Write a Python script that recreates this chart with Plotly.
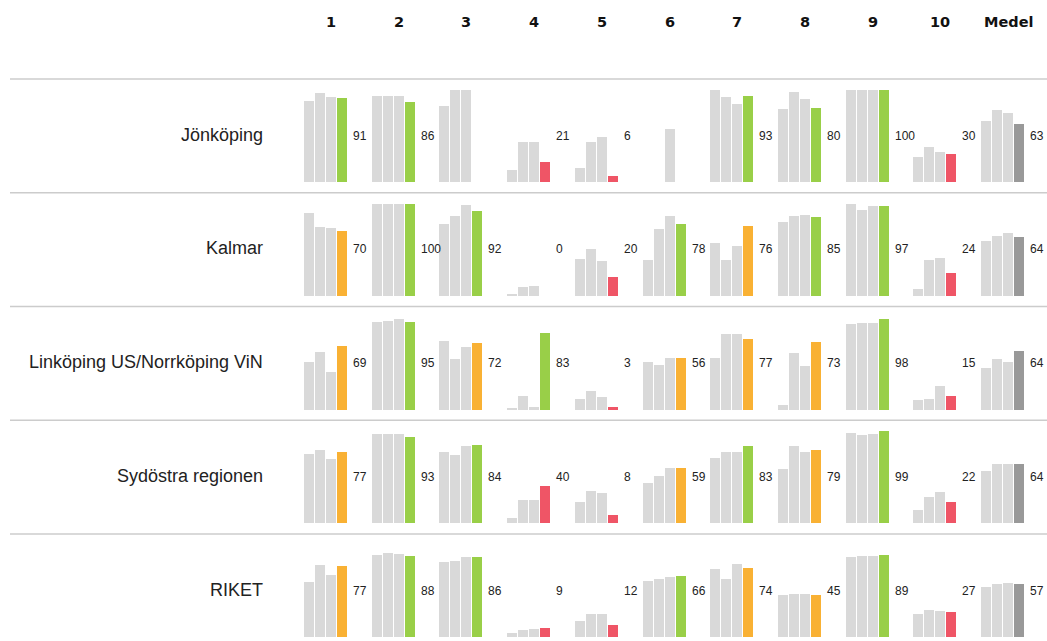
import plotly.graph_objects as go

# Column headers (indicators 1-10 and the average)
columns = ["1", "2", "3", "4", "5", "6", "7", "8", "9", "10", "Medel"]
regions = ["Jönköping", "Kalmar", "Linköping US/Norrköping ViN", "Sydöstra regionen", "RIKET"]

# Each cell: three earlier periods (grey) followed by the current value
jonkoping = [[88, 96, 92, 91], [93, 93, 93, 86], [82, 100, 100, None], [13, 43, 43, 21],
             [15, 43, 48, 6], [None, None, 57, None], [100, 92, 84, 93], [79, 97, 90, 80],
             [100, 99, 99, 100], [27, 38, 32, 30], [66, 78, 74, 63]]
kalmar = [[90, 75, 73, 70], [100, 100, 99, 100], [78, 86, 98, 92], [1, 9, 10, 0],
          [40, 51, 38, 20], [39, 72, 86, 78], [57, 39, 54, 76], [80, 86, 87, 85],
          [100, 93, 97, 97], [7, 39, 41, 24], [59, 65, 68, 64]]
linkoping = [[52, 63, 41, 69], [95, 96, 98, 95], [75, 55, 68, 72], [1, 15, 3, 83],
             [11, 20, 14, 3], [52, 48, 56, 56], [56, 82, 82, 77], [5, 61, 47, 73],
             [93, 94, 94, 98], [10, 11, 26, 15], [45, 55, 52, 64]]
sydostra = [[74, 79, 69, 77], [96, 96, 96, 93], [77, 73, 83, 84], [5, 25, 24, 40],
            [22, 34, 32, 8], [43, 51, 59, 59], [70, 77, 77, 83], [58, 83, 77, 79],
            [97, 95, 96, 99], [14, 28, 33, 22], [56, 64, 64, 64]]
riket = [[59, 78, 67, 77], [89, 91, 90, 88], [81, 82, 86, 86], [4, 7, 8, 9],
         [17, 24, 24, 12], [60, 63, 65, 66], [73, 63, 79, 74], [45, 46, 46, 45],
         [86, 87, 87, 89], [24, 29, 28, 27], [54, 57, 58, 57]]

# Status of the current value: g = target met, o = partly, r = not met, m = average
jonkoping_status = ["g", "g", "", "r", "r", "", "g", "g", "g", "r", "m"]
kalmar_status = ["o", "g", "g", "r", "r", "g", "o", "g", "g", "r", "m"]
linkoping_status = ["o", "g", "o", "g", "r", "o", "o", "o", "g", "r", "m"]
sydostra_status = ["o", "g", "g", "r", "r", "o", "g", "o", "g", "r", "m"]
riket_status = ["o", "g", "g", "r", "r", "g", "o", "o", "g", "r", "m"]

row_values = [jonkoping, kalmar, linkoping, sydostra, riket]
row_status = [jonkoping_status, kalmar_status, linkoping_status, sydostra_status, riket_status]

GREY = "#d9d9d9"
STATUS_COLORS = {"g": "#99cf48", "o": "#f9b134", "r": "#ef5566", "m": "#999999", "": GREY}

W, H = 1047, 641
STEP_PX = 11.0            # one bar slot in pixels
PITCH = 67.7 / STEP_PX    # distance between columns, in bar slots
BAR_W = 10.0 / STEP_PX
X0_PX = 309.0             # pixel centre of the first bar
ROW_TOP0 = 79.0
ROW_H = 113.75
BASE_OFF = 102.5          # from row top line to bar baseline (px)
PX_PER_UNIT = 0.92

fig = go.Figure()
annotations = []
shapes = []
layout = {}

x_range = [-X0_PX / STEP_PX, (W - X0_PX) / STEP_PX]

for r, (vals, stat) in enumerate(zip(row_values, row_status)):
    k = r + 1
    xname = "x" if k == 1 else f"x{k}"
    yname = "y" if k == 1 else f"y{k}"
    top_px = ROW_TOP0 + r * ROW_H
    base_px = top_px + BASE_OFF
    bot_px = base_px + 4
    dom = [1 - bot_px / H, 1 - top_px / H]
    y_range = [-(bot_px - base_px) / PX_PER_UNIT, BASE_OFF / PX_PER_UNIT]

    layout["xaxis" if k == 1 else f"xaxis{k}"] = dict(
        domain=[0, 1], range=x_range, visible=False, fixedrange=True, anchor=yname)
    layout["yaxis" if k == 1 else f"yaxis{k}"] = dict(
        domain=dom, range=y_range, visible=False, fixedrange=True, anchor=xname)

    xs, ys, cols = [], [], []
    for c, cell in enumerate(vals):
        for j, v in enumerate(cell):
            xs.append(c * PITCH + j)
            ys.append(v)
            cols.append(STATUS_COLORS[stat[c]] if j == 3 else GREY)
        cur = cell[3]
        if cur is not None:
            annotations.append(dict(
                x=c * PITCH + 3 + BAR_W / 2 + 4 / STEP_PX, y=50,
                xref=xname, yref=yname, xanchor="left", yanchor="middle",
                text=str(cur), showarrow=False,
                font=dict(family="Liberation Sans, Arial", size=12, color="#222222")))

    fig.add_trace(go.Bar(x=xs, y=ys, width=BAR_W, marker=dict(color=cols, line=dict(width=0)),
                         xaxis=xname, yaxis=yname, hoverinfo="y", showlegend=False))

    annotations.append(dict(
        x=265 / W, y=51, xref="paper", yref=yname, xanchor="right", yanchor="middle",
        text=regions[r], showarrow=False,
        font=dict(family="Liberation Sans, Arial", size=18, color="#222222")))

    shapes.append(dict(type="line", xref="paper", yref=f"{yname} domain",
                       x0=10 / W, x1=1, y0=1, y1=1,
                       line=dict(color="#cccccc", width=1.5)))

for c, name in enumerate(columns):
    annotations.append(dict(
        x=c * PITCH + 2.0, y=1 - 22 / H, xref="x", yref="paper",
        xanchor="center", yanchor="middle", text=name, showarrow=False,
        font=dict(family="DejaVu Sans", size=14.5, color="#111111", weight="bold")))

fig.update_layout(
    width=W, height=H,
    margin=dict(l=0, r=0, t=0, b=0),
    paper_bgcolor="white", plot_bgcolor="white",
    showlegend=False, bargap=0,
    annotations=annotations, shapes=shapes,
    **layout,
)

fig.write_html("out.html", config={"displayModeBar": False})
